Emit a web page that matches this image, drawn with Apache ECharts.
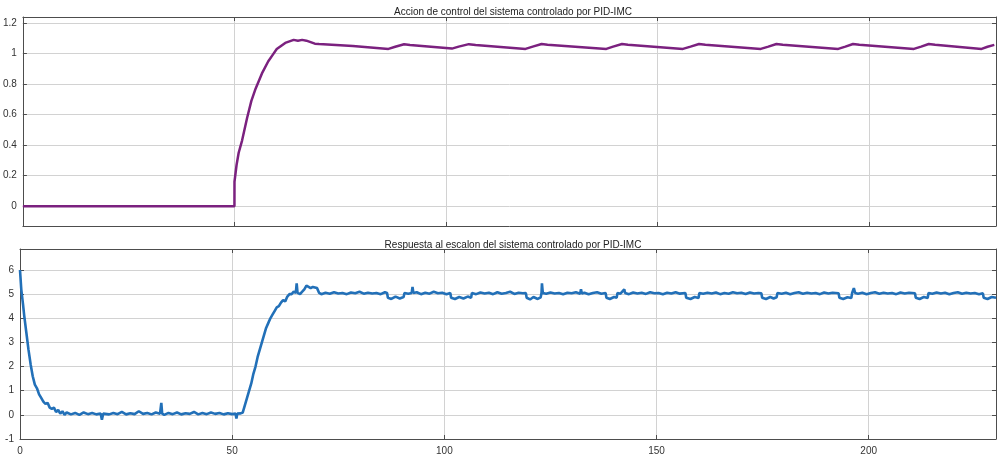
<!DOCTYPE html>
<html>
<head>
<meta charset="utf-8">
<script src="https://cdn.jsdelivr.net/npm/echarts@6/dist/echarts.min.js"></script>
<style>html,body{margin:0;padding:0;background:#fff}#c{width:1000px;height:457px}</style>
</head>
<body>
<div id="c"></div>
<script>
const titleTop = 'Accion de control del sistema controlado por PID-IMC';
const titleBottom = 'Respuesta al escalon del sistema controlado por PID-IMC';
const xTicks = [0, 50, 100, 150, 200];
const yTicksTop = [0, 0.2, 0.4, 0.6, 0.8, 1, 1.2];
const yTicksBottom = [-1, 0, 1, 2, 3, 4, 5, 6];

// control action (top)
const controlAction = [
  [0,0],[50,0],[50.01,0.16],[50.5,0.27],[51,0.35],[51.8,0.43],[53,0.58],[54,0.69],[55,0.77],
  [56.5,0.87],[58,0.95],[59,0.99],[60,1.03],[61,1.05],[62,1.07],[63,1.08],[64,1.09],[65,1.085],
  [66,1.09],[67,1.085],[68,1.075],[69,1.065],[70,1.063],[78,1.05],[86.4,1.031],
  [88,1.045],[90.1,1.061],[91.5,1.057],[101.4,1.033],
  [103,1.046],[105.4,1.062],[107,1.057],[118.8,1.031],
  [120.5,1.046],[122.6,1.063],[124,1.058],[137.9,1.031],
  [139.5,1.046],[141.6,1.063],[143,1.058],[156,1.031],
  [157.8,1.046],[159.8,1.063],[161.3,1.058],[174.4,1.031],
  [176.2,1.046],[178.1,1.063],[179.6,1.058],[192.7,1.031],
  [194.4,1.046],[196.2,1.063],[197.7,1.058],[210.6,1.031],
  [212.3,1.046],[214.1,1.063],[215.6,1.058],[226.6,1.031],
  [228,1.045],[229.6,1.057]
];

// step response (bottom)
const stepResponse = [
  [0,6.0],[0.3,5.2],[0.7,4.6],[1,4.1],[1.5,3.4],[2,2.7],[2.5,2.1],[3,1.6],[3.5,1.25],[4,1.1],
  [4.5,0.85],[5,0.7],[5.5,0.55],[6,0.45],[6.5,0.5],[7,0.3],[7.5,0.25],[8,0.3],
  [8.5,0.12],[9,0.2],[9.5,0.05],[10,0.15],[10.5,0.0],[11,0.1],[12,0.02],[13,0.08],[14,0.0],
  [15,0.1],[16,0.03],[17,0.08],[18,0.02],[19,0.06],[19.3,-0.2],[19.6,0.05],[20,0.1],[21,0.02],
  [22,0.08],[23,0.03],[24,0.12],[25,0.02],[26,0.07],[27,0.03],[28,0.15],[29,0.04],[30,0.08],
  [31,0.02],[32,0.1],[33,0.05],[33.3,0.5],[33.5,0.05],[34,0.0],[35,0.08],[36,0.03],[37,0.1],
  [38,0.02],[39,0.07],[40,0.04],[41,0.12],[42,0.02],[43,0.08],[44,0.03],[45,0.1],[46,0.04],
  [47,0.08],[48,0.02],[49,0.07],[50,0.03],[50.8,0.05],[51,-0.15],[51.2,0.05],[52,0.06],
  [52.5,0.1],[53,0.4],[53.5,0.7],[54,1.0],[54.5,1.3],[55,1.7],[55.5,2.0],[56,2.4],[56.5,2.7],
  [57,3.0],[57.5,3.3],[58,3.6],[58.5,3.8],[59,4.0],[59.5,4.15],[60,4.3],[60.5,4.45],[61,4.5],
  [61.5,4.65],[62,4.75],[62.5,4.7],[63,4.9],[63.5,5.0],[64,5.0],[64.5,5.1],[65,5.05],[65.2,5.45],
  [65.4,5.05],[66,5.0],[66.5,5.1],[67,5.2],[67.5,5.35],[68,5.3],[68.5,5.25],[69,5.3],[70,5.25],
  [70.5,5.05],[71,5.0],[72,5.06],[73,5.02],[74,5.08],[75,5.03],[76,5.05],[77,5.0],[78,5.07],
  [79,5.04],[80,5.1],[81,5.02],[82,5.06],[83,5.03],[84,5.05],[85,5.0],[86,5.08],[86.5,5.05],
  [86.7,4.85],[87.5,4.8],[88.5,4.9],[89.5,4.82],[90.4,4.88],[90.6,5.05],[91.5,5.02],[92.3,5.05],
  [92.5,5.3],[92.7,5.05],[93.5,5.08],[94.5,5.0],[95.5,5.06],[96.5,5.02],[97.5,5.1],[98.5,5.04],
  [99.5,5.06],[100.5,5.0],[101.4,5.05],
  [101.6,4.85],[102.5,4.8],[103.5,4.88],[104.5,4.82],[105.5,4.9],[106.3,4.85],[106.5,5.05],
  [107.5,5.0],[108.5,5.07],[109.5,5.03],[110.5,5.06],[111.5,5.0],[112.5,5.08],[113.5,5.02],
  [114.5,5.05],[115.5,5.1],[116.5,5.01],[117.5,5.06],[118.5,5.04],[119.2,5.05],
  [119.4,4.85],[120.2,4.78],[121,4.88],[122,4.8],[122.7,4.87],[122.9,5.05],[123,5.45],[123.2,5.05],
  [124,5.02],[125,5.07],[126,5.03],[127,5.05],[128,5.0],[129,5.06],[130,5.04],[131,5.08],[132,5.02],
  [132.2,5.2],[132.4,5.03],[133,5.06],[134,5.0],[135,5.05],[136,5.08],[137,5.02],[138,5.05],
  [138.2,4.85],[139,4.8],[140,4.88],[140.6,4.85],[140.8,5.05],[141.5,5.02],[142.4,5.2],[142.6,5.05],
  [143.5,5.0],[144.5,5.07],[145.5,5.03],[146.5,5.06],[147.5,5.01],[148.5,5.08],[149.5,5.04],
  [150.5,5.05],[151.5,5.0],[152.5,5.06],[153.5,5.03],[154.5,5.08],[155.5,5.02],[156.8,5.05],
  [157,4.85],[158,4.8],[159,4.88],[159.9,4.84],[160.1,5.05],[161,5.02],[162,5.06],[163,5.03],
  [164,5.07],[165,5.0],[166,5.05],[167,5.02],[168,5.08],[169,5.04],[170,5.06],[171,5.01],[172,5.07],
  [173,5.03],[174,5.05],[174.7,5.04],
  [174.9,4.85],[175.8,4.8],[176.8,4.88],[177.6,4.82],[178.3,4.87],[178.5,5.05],[179.5,5.02],
  [180.5,5.06],[181.5,5.0],[182.5,5.05],[183.5,5.08],[184.5,5.02],[185.5,5.06],[186.5,5.03],
  [187.5,5.05],[188.5,5.0],[189.5,5.07],[190.5,5.03],[191.5,5.06],[192.9,5.04],
  [193.1,4.85],[194,4.8],[195,4.87],[195.9,4.84],[196.1,5.05],[196.5,5.25],[196.8,5.05],[197.5,5.02],
  [198.5,5.06],[199.5,5.0],[200.5,5.05],[201.5,5.08],[202.5,5.02],[203.5,5.06],[204.5,5.03],
  [205.5,5.05],[206.5,5.0],[207.5,5.07],[208.5,5.03],[209.5,5.06],[210.9,5.04],
  [211.1,4.85],[212,4.8],[213,4.88],[213.9,4.84],[214.1,5.05],[215,5.02],[216,5.07],[217,5.03],
  [218,5.06],[219,5.0],[220,5.05],[221,5.08],[222,5.02],[223,5.06],[224,5.03],[225,5.05],[226,5.0],
  [226.9,5.04],[227.1,4.85],[228,4.8],[229,4.88],[230,4.85]
];

const FONT = 'Liberation Sans, Arial, sans-serif';
const AX = '#4d4d4d';
const GRIDC = '#d2d2d2';

function xAxisDef(grid, pos, labels) {
  return {
    type: 'value', gridIndex: grid, position: pos, min: 0, max: 230,
    axisLine: { show: true, onZero: false, lineStyle: { color: AX, width: 1 } },
    axisTick: { show: true, inside: true, length: 4, customValues: xTicks, lineStyle: { color: AX } },
    axisLabel: { show: labels, customValues: xTicks, fontSize: 10, color: '#333', fontFamily: FONT, margin: 7 },
    splitLine: { show: pos === 'bottom', lineStyle: { color: GRIDC, width: 1 } }
  };
}
function yAxisDef(grid, pos, min, max, ticks, labels) {
  return {
    type: 'value', gridIndex: grid, position: pos, min: min, max: max,
    axisLine: { show: true, onZero: false, lineStyle: { color: AX, width: 1 } },
    axisTick: { show: true, inside: true, length: 4, customValues: ticks, lineStyle: { color: AX } },
    axisLabel: { show: labels, customValues: ticks, fontSize: 10, color: '#333', fontFamily: FONT, margin: 6 },
    splitLine: { show: pos === 'left', lineStyle: { color: GRIDC, width: 1 } }
  };
}

const chart = echarts.init(document.getElementById('c'), null, { renderer: 'canvas' });
chart.setOption({
  animation: false,
  backgroundColor: '#fff',
  title: [
    { text: titleTop, left: 508, top: 2, textAlign: 'center',
      textStyle: { fontSize: 10, fontWeight: 'normal', color: '#222', fontFamily: FONT } },
    { text: titleBottom, left: 508, top: 235, textAlign: 'center',
      textStyle: { fontSize: 10, fontWeight: 'normal', color: '#222', fontFamily: FONT } }
  ],
  grid: [
    { left: 20, top: 17, right: 4, height: 209 },
    { left: 20, top: 249, right: 4, height: 190 }
  ],
  xAxis: [
    xAxisDef(0, 'bottom', false),
    xAxisDef(1, 'bottom', true),
    xAxisDef(0, 'top', false),
    xAxisDef(1, 'top', false)
  ],
  yAxis: [
    yAxisDef(0, 'left', -0.13, 1.24, yTicksTop, true),
    yAxisDef(1, 'left', -1, 6.87, yTicksBottom, true),
    yAxisDef(0, 'right', -0.13, 1.24, yTicksTop, false),
    yAxisDef(1, 'right', -1, 6.87, yTicksBottom, false)
  ],
  series: [
    { type: 'line', xAxisIndex: 0, yAxisIndex: 0, data: controlAction, showSymbol: false,
      lineStyle: { color: '#7b217f', width: 2.5 }, z: 5 },
    { type: 'line', xAxisIndex: 1, yAxisIndex: 1, data: stepResponse, showSymbol: false,
      lineStyle: { color: '#2270b8', width: 2.6 }, z: 5 }
  ]
});
</script>
</body>
</html>
